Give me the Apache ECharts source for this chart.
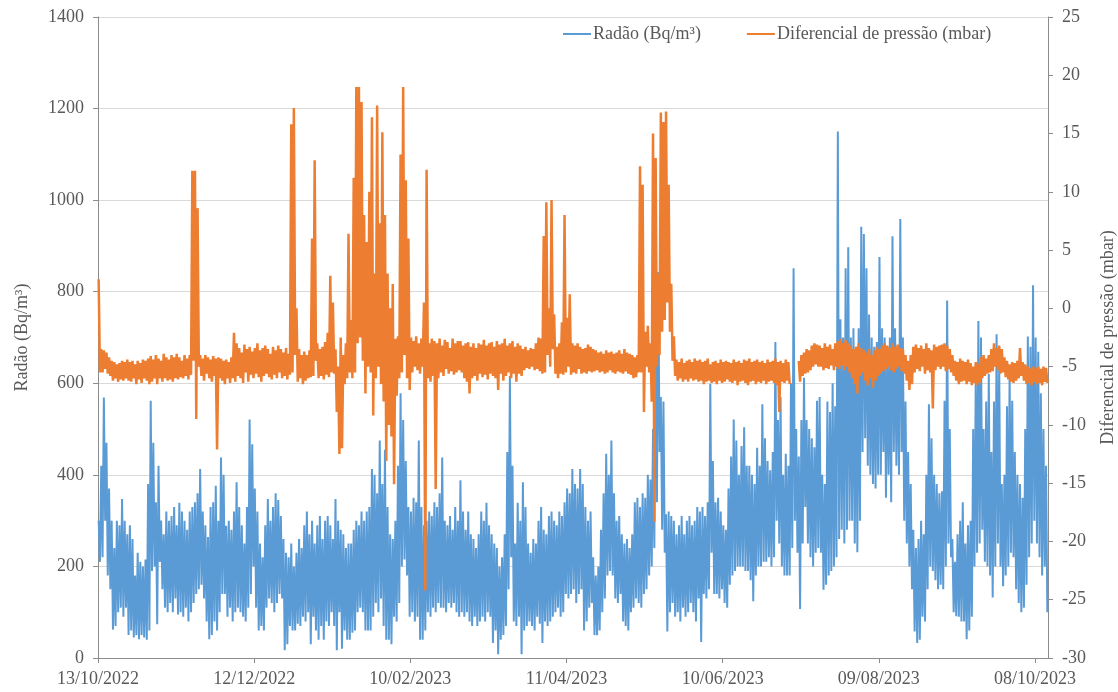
<!DOCTYPE html>
<html>
<head>
<meta charset="utf-8">
<script src="https://cdn.jsdelivr.net/npm/echarts@6/dist/echarts.min.js"></script>
<style>
  html, body { margin: 0; padding: 0; background: #fff; }
  #main { width: 1118px; height: 692px; }
</style>
</head>
<body>
<div id="main"></div>
<script>
// dia 0 = 13/10/2022, um valor alto e um baixo por dia
var startDay = [2022, 9, 13];
var seriesNames = ['Radão (Bq/m³)', 'Diferencial de pressão (mbar)'];

var radonHigh = [
  300,420,569,470,370,300,240,300,290,347, 300,270,290,260,180,230,210,200,215,380,
  562,470,340,420,300,270,320,300,310,330, 290,339,320,300,280,320,330,340,360,413,
  320,290,264,330,340,376,300,438,400,289, 300,280,320,384,330,290,250,330,521,467,
  370,320,250,220,290,347,300,330,360,345, 310,260,230,220,250,200,230,260,240,290,
  320,270,300,250,290,310,260,300,310,290, 260,347,300,280,270,240,250,250,280,300,
  290,320,300,320,330,413,400,360,475,380, 455,330,270,260,300,420,578,520,430,330,
  320,350,340,475,330,290,300,320,310,340, 330,360,438,300,290,310,280,330,300,388,
  320,280,320,270,260,240,270,320,300,339, 290,270,250,240,200,220,270,450,616,420,
  250,339,300,384,330,250,230,260,250,300, 330,280,270,310,320,300,290,320,310,340,
  370,360,413,380,370,413,380,330,300,320, 220,180,200,280,360,446,400,475,360,300,
  310,270,250,260,240,270,340,350,330,360, 350,400,390,500,744,843,570,560,314,320,
  310,300,270,290,310,270,300,310,290,300, 330,320,330,310,340,599,430,340,350,320,
  290,280,370,440,521,475,400,463,504,420, 420,400,380,459,420,554,480,430,410,450,
  690,520,570,400,446,420,600,851,500,440, 520,612,520,500,480,460,562,570,400,380,
  560,537,600,550,1150,740,700,851,897,700, 720,680,720,942,926,851,750,700,680,690,
  876,720,700,680,700,921,720,680,959,700, 560,450,380,280,240,260,300,270,400,554,
  480,400,380,360,364,562,781,500,260,210, 270,300,340,250,290,300,500,620,736,700,
  500,560,620,450,560,707,650,380,400,550, 620,562,450,400,380,350,500,702,680,814,
  700,669,578,500,420
];
var radonLow = [
  210,220,300,180,150,62,70,100,110,90, 110,50,60,45,50,41,50,45,40,60,
  190,200,74,210,150,110,100,120,100,130, 95,100,90,110,80,100,120,140,150,160,
  130,80,41,50,80,60,100,140,140,90, 110,80,100,110,100,90,80,110,140,200,
  110,60,70,60,110,130,120,100,120,140, 130,17,30,70,60,60,75,70,90,80,
  100,30,90,60,40,70,40,80,70,100, 70,17,100,20,60,40,40,55,60,100,
  110,100,60,60,60,90,120,100,130,70, 40,40,30,90,80,120,200,215,180,90,
  100,80,90,40,40,60,100,90,110,100, 120,110,110,100,120,110,120,100,90,100,
  90,100,80,70,90,70,80,90,80,100, 90,33,60,8,40,50,70,150,220,80,
  70,90,8,60,70,80,70,60,90,75, 33,80,70,80,90,100,110,90,100,140,
  130,140,150,120,140,150,60,80,110,120, 50,50,60,100,130,180,190,180,130,120,
  140,80,70,60,100,110,130,120,110,140, 150,180,200,240,340,450,280,230,58,100,
  120,90,100,80,110,90,100,120,100,80, 130,35,140,130,150,230,140,140,130,150,
  120,110,160,180,190,200,200,200,190,190, 170,124,180,200,200,210,210,220,200,220,
  300,250,200,180,180,180,240,300,230,107, 250,330,250,220,200,230,240,230,149,160,
  180,190,200,220,260,280,250,280,300,300, 250,231,300,450,480,420,400,380,370,400,
  400,450,350,400,340,450,420,400,450,300, 250,200,150,58,33,40,90,80,150,200,
  190,170,150,160,150,200,250,220,100,91, 90,80,80,41,60,90,200,230,250,280,
  210,200,180,132,200,250,200,157,180,200, 230,220,150,120,100,110,160,220,250,300,
  250,220,180,200,100
];

var pressHigh = [
  2.5,-3.5,-3.6,-3.8,-4.2,-4.5,-4.6,-4.8,-4.7,-4.5, -4.6,-4.4,-4.6,-4.5,-4.8,-4.5,-4.7,-4.4,-4.5,-4.3,
  -4.1,-4.4,-4.0,-4.3,-4.5,-3.9,-4.2,-4.4,-4.0,-4.2, -3.9,-4.2,-4.5,-4.0,-4.3,-4.0,11.8,11.8,8.6,-4.0,
  -4.3,-4.0,-4.2,-4.4,-4.1,-4.3,-4.2,-4.3,-4.5,-4.4, -4.6,-4.2,-2.1,-3.0,-3.4,-3.8,-3.1,-3.5,-3.3,-3.7,
  -3.4,-3.0,-3.6,-3.4,-3.2,-3.5,-3.9,-3.3,-3.6,-3.2, -3.5,-3.8,-3.4,-3.9,15.8,17.2,0,-3.5,-4.0,-3.7,
  -4.0,-3.6,6.0,12.7,-3.0,-3.5,-3.3,-2.9,-2.1,2.8, 0.5,-3.5,-5.0,-2.5,-4.0,-3.0,6.4,-1.0,11.2,19.0,
  19.0,17.7,8.0,5.7,10.0,16.4,3.0,17.4,7.3,15.1, 8.0,3.0,0.0,2.1,-2.6,-2.4,13.2,19.0,11.0,6.0,
  -2.5,-2.8,-2.4,-3.0,-2.6,0.5,11.9,-3.0,-2.6,-2.8, -3.0,-2.6,-3.2,-2.7,-2.9,-3.4,-2.6,-3.0,-2.8,-2.8,
  -3.2,-3.0,-2.9,-3.3,-3.0,-3.4,-3.0,-3.1,-2.7,-3.2, -3.0,-2.9,-3.3,-2.8,-3.1,-3.0,-2.6,-3.2,-3.0,-2.8,
  -3.3,-3.0,-3.2,-3.5,-3.3,-3.6,-3.4,-3.5,-3.0,-2.5, -2.6,6.2,9.1,0.0,9.3,-0.5,-3.3,-3.0,-1.2,8.0,
  -0.8,1.2,-3.0,-3.2,-3.0,-3.3,-3.5,-3.4,-3.1,-3.3, -3.5,-3.6,-3.8,-3.7,-3.9,-3.6,-3.8,-3.7,-3.9,-3.8,
  -3.6,-3.9,-3.5,-3.8,-3.9,-4.0,-4.2,-4.0,12.2,10.6, -2.0,-1.5,-3.0,15.0,12.9,3.0,16.8,16.0,16.9,10.6,
  2.1,-2.4,-4.4,-4.6,-4.3,-4.7,-4.5,-4.4,-4.6,-4.3, -4.5,-4.4,-4.6,-4.5,-4.3,-4.8,-4.6,-4.5,-4.7,-4.4,
  -4.6,-4.5,-4.6,-4.7,-4.4,-4.6,-4.5,-4.7,-4.4,-4.5, -4.3,-4.6,-4.5,-4.4,-4.6,-4.5,-4.7,-4.4,-4.6,-4.5,
  -4.3,-4.6,-4.5,-4.7,-4.4,-4.6,null,null,null,-4.5, -4.0,-3.8,-3.5,-3.6,-3.2,-3.0,-3.1,-3.2,-3.4,-3.0,
  -3.3,-3.1,-3.5,-3.0,-2.8,-2.6,-3.0,-2.7,-3.0,-3.2, -3.5,-3.3,-3.0,-3.4,-3.6,-3.8,-3.5,-4.0,-3.6,-3.3,
  -3.5,-3.2,-3.0,-3.2,-3.4,-3.0,-3.3,-3.1,-3.4,-3.5, -4.0,-4.5,-4.0,-3.3,-3.1,-3.4,-3.2,-3.5,-3.0,-3.4,
  -3.6,-3.1,-3.3,-3.2,-3.1,-3.0,-3.2,-3.5,-4.0,-4.5, -4.6,-4.3,-4.5,-4.6,-4.4,-4.7,-5.0,-4.6,-4.8,-4.2,
  -4.0,-4.3,-4.0,-3.5,-3.0,-3.4,-3.2,-3.5,-4.2,-4.5, -4.8,-4.6,-4.7,-4.5,-3.4,-4.6,-4.8,-5.0,-5.2,-5.0,
  -5.1,-5.0,-5.2,-5.0,-5.1
];
var pressLow = [
  -5.5,-5.5,-5.2,-5.6,-5.8,-6.2,-6.0,-6.3,-6.1,-6.2, -6.0,-6.2,-6.3,-6.0,-6.5,-6.1,-6.4,-6.0,-6.2,-6.5,
  -6.3,-6.0,-6.5,-6.0,-6.3,-6.0,-6.2,-6.1,-6.3,-6.0, -6.1,-5.9,-6.0,-5.8,-6.1,-5.7,-4.5,-9.5,-5.0,-5.8,
  -6.2,-5.6,-6.0,-6.3,-5.8,-12.1,-6.0,-6.2,-6.5,-6.0, -6.4,-6.0,-6.3,-5.8,-6.0,-6.4,-5.5,-6.3,-5.7,-6.0,
  -5.6,-5.9,-6.3,-5.8,-5.6,-5.9,-6.1,-5.7,-6.0,-5.5, -6.0,-5.8,-6.1,-5.7,-5.5,-4.0,-6.3,-6.0,-6.5,-6.2,
  -6.0,-5.9,-5.8,-4.5,-6.0,-5.8,-6.1,-5.7,-5.9,-5.5, -5.6,-8.9,-12.5,-12.0,-6.5,-6.0,-5.5,-6.0,-5.5,-3.0,
  -2.5,-4.5,-7.3,-5.0,-5.5,-9.2,-6.0,-5.0,-6.5,-8.0, -13.1,-10.0,-11.0,-15.1,-7.5,-6.0,-5.5,-4.0,-6.0,-7.0,
  -5.5,-5.0,-5.3,-5.6,-5.0,-24.2,-6.0,-6.3,-5.8,-15.5, -6.0,-5.5,-5.8,-5.2,-5.6,-5.4,-5.7,-5.5,-5.3,-5.5,
  -6.0,-6.3,-7.3,-6.0,-5.8,-6.2,-5.6,-5.9,-5.7,-6.1, -5.6,-5.8,-6.0,-7.0,-5.6,-6.2,-5.8,-5.5,-6.0,-5.6,
  -6.3,-5.6,-5.8,-5.3,-5.1,-5.2,-5.0,-5.3,-5.2,-5.4, -5.6,-5.5,-4.0,-5.0,-3.5,-5.6,-6.0,-5.6,-5.7,-5.5,
  -5.0,-5.7,-5.5,-5.6,-5.2,-5.6,-5.5,-5.6,-5.4,-5.5, -5.4,-5.3,-5.5,-5.4,-5.6,-5.5,-5.3,-5.5,-5.6,-5.4,
  -5.5,-5.6,-5.4,-5.6,-5.7,-6.0,-5.9,-5.5,-5.5,-8.9, -5.0,-5.5,-8.0,-18.3,-5.0,-4.0,-2.0,-1.0,0.5,-2.0,
  -4.5,-5.8,-6.2,-6.0,-6.3,-6.1,-6.3,-6.0,-6.2,-6.1, -6.3,-6.2,-6.5,-6.3,-6.2,-6.4,-6.3,-6.5,-6.2,-6.4,
  -6.3,-6.1,-6.3,-6.4,-6.2,-6.6,-6.3,-6.2,-6.4,-6.6, -6.3,-6.2,-6.5,-6.3,-6.4,-6.2,-6.5,-6.3,-6.2,-6.4,
  -6.6,-8.9,-6.3,-6.4,-6.2,-6.5,null,null,null,-6.3, -5.8,-5.6,-5.5,-5.3,-5.0,-4.8,-5.0,-5.0,-5.3,-5.1,
  -5.2,-4.9,-5.3,-5.0,-5.2,-4.9,-5.3,-5.0,-5.5,-6.0, -6.5,-7.3,-5.8,-5.5,-6.2,-6.6,-6.0,-6.8,-6.2,-5.8,
  -5.6,-5.4,-5.2,-5.0,-5.3,-5.5,-5.2,-5.0,-5.4,-5.6, -6.2,-7.0,-6.5,-5.5,-5.2,-5.4,-5.0,-5.6,-5.3,-5.5,
  -8.6,-5.3,-5.0,-5.2,-5.0,-5.4,-5.2,-5.5,-5.8,-6.2, -6.5,-6.3,-6.2,-6.5,-6.3,-6.6,-6.4,-6.6,-6.4,-6.0,
  -5.8,-5.6,-5.5,-5.4,-5.0,-5.3,-5.6,-5.5,-5.9,-6.1, -6.3,-6.4,-6.2,-6.0,-5.8,-6.2,-6.5,-6.4,-6.6,-6.3,
  -6.5,-6.4,-6.6,-6.3,-6.4
];

function pairs(hi, lo) {
    var out = [];
    for (var i = 0; i < hi.length; i++) {
        out.push([i + 0.25, hi[i] == null ? '-' : hi[i]]);
        out.push([i + 0.75, lo[i] == null ? '-' : lo[i]]);
    }
    return out;
}

function dayLabel(v) {
    var d = new Date(Date.UTC(startDay[0], startDay[1], startDay[2]) + v * 86400000);
    var dd = ('0' + d.getUTCDate()).slice(-2);
    var mm = ('0' + (d.getUTCMonth() + 1)).slice(-2);
    return dd + '/' + mm + '/' + d.getUTCFullYear();
}

function plain(v) {
    return String(v);
}

var chart = echarts.init(document.getElementById('main'));
var font = 'Liberation Serif';
var grey = '#595959';
var fs = 18;

option = {
    animation: false,
    backgroundColor: '#fff',
    textStyle: { fontFamily: font },
    legend: {
        left: 563,
        top: 25,
        padding: 0,
        icon: 'rect',
        itemWidth: 28,
        itemHeight: 2,
        itemGap: 46,
        textStyle: { fontFamily: font, fontSize: fs, color: grey, padding: [0, 0, 0, -3] },
        data: seriesNames
    },
    grid: { left: 98, right: 70, top: 17, bottom: 34, containLabel: false, outerBoundsMode: 'none' },
    xAxis: {
        type: 'value',
        min: 0,
        max: 365,
        interval: 60,
        splitLine: { show: false },
        axisLine: { lineStyle: { color: '#8c8c8c' } },
        axisTick: { lineStyle: { color: '#8c8c8c' }, length: 5 },
        axisLabel: {
            formatter: dayLabel,
            showMaxLabel: false,
            fontFamily: font, fontSize: fs, color: grey, margin: 12
        }
    },
    yAxis: [
        {
            type: 'value',
            min: 0,
            max: 1400,
            interval: 200,
            name: seriesNames[0],
            nameLocation: 'middle',
            nameRotate: 90,
            nameGap: 67,
            nameTextStyle: { fontFamily: font, fontSize: fs, color: grey },
            axisLine: { show: true, lineStyle: { color: '#8c8c8c' } },
            axisTick: { show: true, length: 5, lineStyle: { color: '#8c8c8c' } },
            axisLabel: { formatter: plain, fontFamily: font, fontSize: fs, color: grey, margin: 14 },
            splitLine: { lineStyle: { color: '#d9d9d9' } }
        },
        {
            type: 'value',
            min: -30,
            max: 25,
            interval: 5,
            name: seriesNames[1],
            nameLocation: 'middle',
            nameRotate: 90,
            nameGap: 51,
            nameTextStyle: { fontFamily: font, fontSize: fs, color: grey },
            axisLine: { show: true, lineStyle: { color: '#8c8c8c' } },
            axisTick: { show: true, length: 5, lineStyle: { color: '#8c8c8c' } },
            axisLabel: { formatter: plain, fontFamily: font, fontSize: fs, color: grey, margin: 14 },
            splitLine: { show: false }
        }
    ],
    series: [
        {
            name: seriesNames[0],
            type: 'line',
            yAxisIndex: 0,
            showSymbol: false,
            symbol: 'none',
            color: '#5b9bd5',
            lineStyle: { width: 2, color: '#5b9bd5' },
            data: pairs(radonHigh, radonLow)
        },
        {
            name: seriesNames[1],
            type: 'line',
            yAxisIndex: 1,
            showSymbol: false,
            symbol: 'none',
            connectNulls: false,
            color: '#ed7d31',
            lineStyle: { width: 2.5, color: '#ed7d31' },
            data: pairs(pressHigh, pressLow)
        }
    ]
};

chart.setOption(option);
</script>
</body>
</html>
